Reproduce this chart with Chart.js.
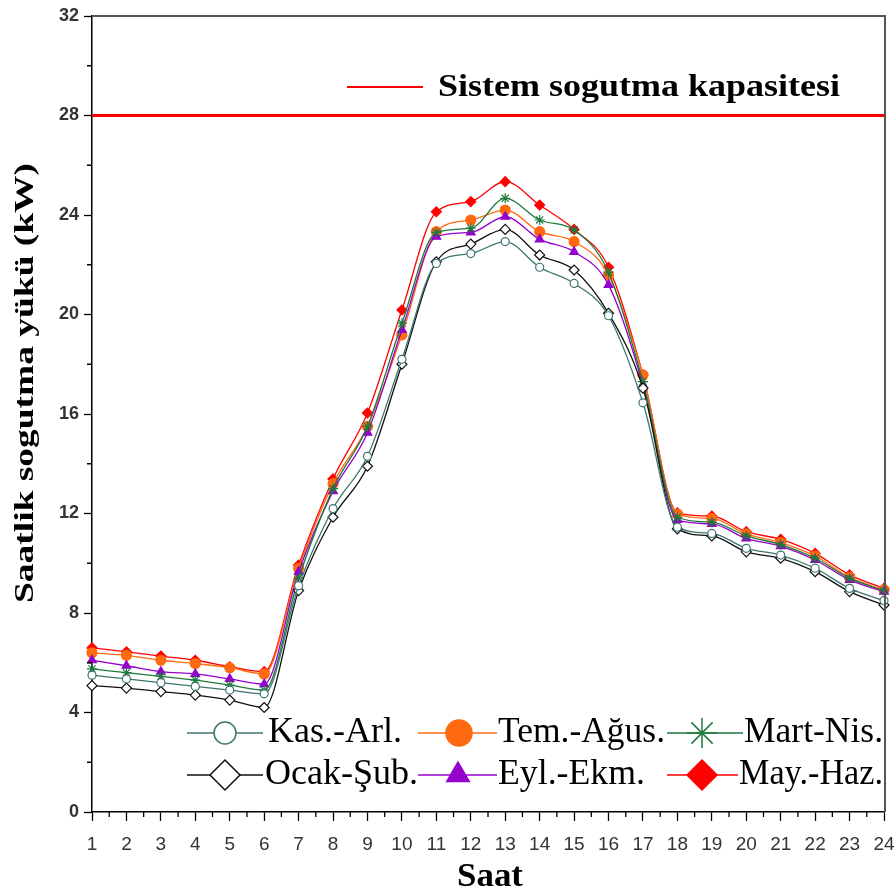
<!DOCTYPE html>
<html>
<head>
<meta charset="utf-8">
<script src="https://cdn.jsdelivr.net/npm/chart.js@4.4.1/dist/chart.umd.min.js"></script>
<style>
html,body{margin:0;padding:0;background:#fff;}
canvas{display:block;}
</style>
</head>
<body>
<canvas id="c" width="896" height="891"></canvas>
<script>
const hours = [1,2,3,4,5,6,7,8,9,10,11,12,13,14,15,16,17,18,19,20,21,22,23,24];
const yTicks = [0,4,8,12,16,20,24,28,32];
const capacity = 28;

const kasArl   = [5.5,5.35,5.2,5.05,4.9,4.75,9.1,12.2,14.3,18.2,22.05,22.45,22.93,21.9,21.25,19.95,16.45,11.45,11.2,10.6,10.33,9.8,8.99,8.5];
const ocakSub  = [5.08,4.98,4.84,4.7,4.5,4.2,8.9,11.85,13.9,18.0,22.12,22.83,23.42,22.39,21.79,20.05,17.04,11.38,11.1,10.46,10.2,9.66,8.86,8.32];
const martNis  = [5.75,5.6,5.45,5.3,5.1,4.9,9.4,13.0,15.5,19.65,23.3,23.47,24.67,23.8,23.4,21.7,17.3,11.85,11.65,11.1,10.75,10.2,9.4,8.9];
const eylEkm   = [6.1,5.88,5.64,5.55,5.35,5.14,9.66,12.9,15.25,19.38,23.13,23.3,23.93,23.02,22.52,21.19,17.17,11.74,11.58,11.0,10.69,10.13,9.33,8.86];
const temAgus  = [6.4,6.3,6.1,5.97,5.8,5.55,9.8,13.2,15.5,19.18,23.33,23.8,24.2,23.33,22.93,21.59,17.57,11.98,11.8,11.18,10.83,10.29,9.43,8.93];
const mayHaz   = [6.6,6.44,6.27,6.1,5.84,5.64,9.93,13.39,16.04,20.18,24.13,24.54,25.34,24.4,23.42,21.9,17.57,12.03,11.9,11.27,10.96,10.4,9.53,8.99];

const seriesNames = ['Kas.-Arl.','Ocak-Şub.','Mart-Nis.','Eyl.-Ekm.','Tem.-Ağus.','May.-Haz.'];
const capacityLabel = 'Sistem sogutma kapasitesi';
const yTitle = 'Saatlik sogutma yükü (kW)';
const xTitle = 'Saat';

const styles = [
  {color:'#3f7571', bg:'#ffffff', ps:'circle', r:4, lr:11},
  {color:'#111111', bg:'#ffffff', ps:'rectRot', r:5, lr:15},
  {color:'#1e7a3c', bg:'#1e7a3c', ps:'star', r:5, lr:15},
  {color:'#9400cc', bg:'#9400cc', ps:'triangle', r:5, lr:13},
  {color:'#ff6a10', bg:'#ff6a10', ps:'circle', r:5, lr:13},
  {color:'#ff0000', bg:'#ff0000', ps:'rectRot', r:5, lr:15}
];
const seriesData = [kasArl, ocakSub, martNis, eylEkm, temAgus, mayHaz];

const datasets = seriesData.map((arr, i) => ({
  label: seriesNames[i],
  data: hours.map((h, k) => ({x: h, y: arr[k]})),
  borderColor: styles[i].color,
  backgroundColor: styles[i].bg,
  pointBorderColor: styles[i].color,
  pointBackgroundColor: styles[i].bg,
  pointStyle: styles[i].ps,
  pointRadius: styles[i].r,
  pointBorderWidth: 1.2,
  borderWidth: 1.3,
  cubicInterpolationMode: 'monotone',
  clip: false
}));
datasets.push({
  label: capacityLabel,
  data: [{x: hours[0], y: capacity}, {x: hours[hours.length-1], y: capacity}],
  borderColor: '#ff0000',
  borderWidth: 3,
  pointRadius: 0,
  clip: false
});

function fitText(ctx, text, x, y, width, align) {
  const w = ctx.measureText(text).width;
  ctx.save();
  ctx.translate(x, y);
  ctx.scale(width / w, 1);
  ctx.textAlign = align || 'left';
  ctx.fillText(text, 0, 0);
  ctx.restore();
}

const legendLayout = [
  {ds:0, x0:187, x1:263, mx:225, y:733, tx:268, tw:134},
  {ds:4, x0:418, x1:497, mx:459, y:733, tx:498, tw:167},
  {ds:2, x0:667, x1:743, mx:702, y:733, tx:744, tw:139},
  {ds:1, x0:187, x1:263, mx:225, y:775, tx:265, tw:153},
  {ds:3, x0:418, x1:497, mx:458, y:775, tx:498, tw:147},
  {ds:5, x0:667, x1:738, mx:702, y:775, tx:739, tw:144}
];

const decor = {
  id: 'decor',
  afterDraw(chart) {
    const ctx = chart.ctx;
    const a = chart.chartArea;
    const xs = chart.scales.x, ys = chart.scales.y;
    ctx.save();
    ctx.strokeStyle = '#555';
    ctx.lineWidth = 2;
    ctx.beginPath();
    ctx.moveTo(a.left, a.top); ctx.lineTo(a.right + 1, a.top); ctx.lineTo(a.right + 1, a.bottom);
    ctx.stroke();
    ctx.strokeStyle = '#000';
    ctx.lineWidth = 1.3;
    ctx.beginPath();
    for (let v = 2; v < 32; v += 4) {
      const py = ys.getPixelForValue(v);
      ctx.moveTo(a.left, py); ctx.lineTo(a.left - 5, py);
    }
    for (let h = 1.5; h < 24; h += 1) {
      const px = xs.getPixelForValue(h);
      ctx.moveTo(px, a.bottom); ctx.lineTo(px, a.bottom + 5);
    }
    ctx.stroke();
    ctx.fillStyle = '#000';
    ctx.textBaseline = 'middle';
    ctx.font = 'bold 28px "Liberation Serif", "DejaVu Serif", serif';
    ctx.save();
    ctx.translate(26, 383);
    ctx.rotate(-Math.PI / 2);
    fitText(ctx, yTitle, 0, 0, 440, 'center');
    ctx.restore();
    ctx.textBaseline = 'alphabetic';
    ctx.font = 'bold 34px "Liberation Serif", "DejaVu Serif", serif';
    fitText(ctx, xTitle, 490, 886, 66, 'center');
    ctx.strokeStyle = '#ff0000';
    ctx.lineWidth = 2;
    ctx.beginPath(); ctx.moveTo(347, 87); ctx.lineTo(423, 87); ctx.stroke();
    ctx.font = 'bold 32px "Liberation Serif", "DejaVu Serif", serif';
    fitText(ctx, capacityLabel, 438, 96, 402, 'left');
    ctx.font = '36px "Liberation Serif", "DejaVu Serif", serif';
    legendLayout.forEach(L => {
      const ds = chart.data.datasets[L.ds];
      const st = styles[L.ds];
      ctx.strokeStyle = st.color;
      ctx.lineWidth = 1.5;
      ctx.beginPath(); ctx.moveTo(L.x0, L.y); ctx.lineTo(L.x1, L.y); ctx.stroke();
      ctx.fillStyle = st.bg;
      ctx.strokeStyle = st.color;
      Chart.helpers.drawPoint(ctx, {pointStyle: st.ps, radius: st.lr, rotation: 0, borderWidth: 1.5}, L.mx, L.y);
      ctx.fillStyle = '#000';
      fitText(ctx, ds.label, L.tx, L.y + 9, L.tw, 'left');
    });
    ctx.restore();
  }
};

new Chart(document.getElementById('c'), {
  type: 'line',
  data: {datasets},
  options: {
    responsive: false,
    animation: false,
    devicePixelRatio: 1,
    layout: {padding: {top: 16, right: 12, left: 0, bottom: 0}},
    plugins: {legend: {display: false}, tooltip: {enabled: false}},
    scales: {
      x: {
        type: 'linear', min: 1, max: 24,
        afterFit: s => { s.height = 79; s.paddingLeft = 0; s.paddingRight = 0; },
        afterBuildTicks: s => { s.ticks = hours.map(v => ({value: v})); },
        grid: {drawOnChartArea: false, drawTicks: true, tickLength: 9, tickColor: '#000', tickWidth: 1.3},
        border: {display: true, color: '#000', width: 1.5},
        ticks: {
          autoSkip: false, maxRotation: 0, padding: 12, color: '#333',
          font: {family: '"Liberation Sans Narrow", "Arial Narrow", "Liberation Sans", sans-serif', size: 19}
        }
      },
      y: {
        min: 0, max: 32,
        afterFit: s => { s.width = 92; s.paddingTop = 0; s.paddingBottom = 0; },
        afterBuildTicks: s => { s.ticks = yTicks.map(v => ({value: v})); },
        grid: {drawOnChartArea: false, drawTicks: true, tickLength: 8, tickColor: '#000', tickWidth: 1.3},
        border: {display: true, color: '#000', width: 1.5},
        ticks: {
          padding: 5, color: '#333',
          font: {family: '"Liberation Sans", Arial, sans-serif', size: 18, weight: 'bold'}
        }
      }
    }
  },
  plugins: [decor]
});
</script>
</body>
</html>
